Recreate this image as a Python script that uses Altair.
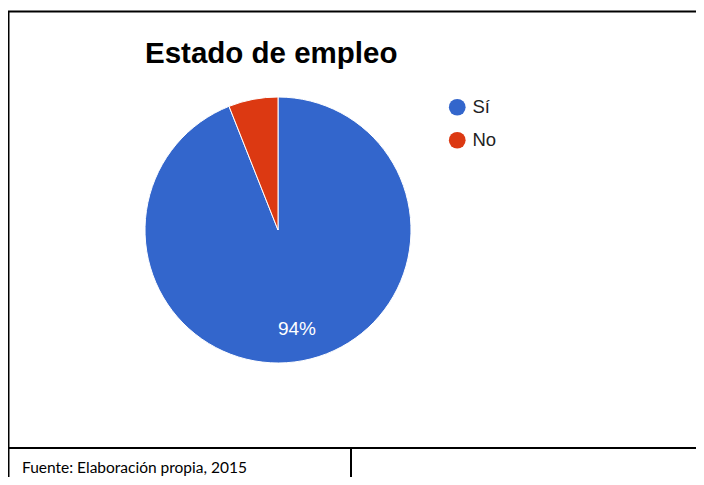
import altair as alt
import pandas as pd

# Data
categories = ["Sí", "No"]
values = [94, 6]
labels = ["94%", ""]
colors = ["#3366cc", "#dc3912"]
title_text = "Estado de empleo"
source_text = "Fuente: Elaboración propia, 2015"

df = pd.DataFrame({"cat": categories, "val": values, "label": labels, "idx": list(range(len(categories)))})

W, H = 688, 469
CX, CY, R = 270, 222, 133

base = alt.Chart(df).encode(
    theta=alt.Theta("val:Q", stack=True),
    order=alt.Order("idx:Q"),
)

pie = base.mark_arc(outerRadius=R, stroke="white", strokeWidth=1).encode(
    x=alt.value(CX),
    y=alt.value(CY),
    color=alt.Color(
        "cat:N",
        scale=alt.Scale(domain=categories, range=colors),
        sort=categories,
        legend=alt.Legend(title=None),
    ),
)

pie_text = base.mark_text(
    radius=101, color="white", fontSize=19, font="Liberation Sans"
).encode(x=alt.value(CX), y=alt.value(CY), text="label:N")

title = alt.Chart(pd.DataFrame({"t": [title_text]})).mark_text(
    font="Liberation Sans", fontSize=29.5, fontWeight="bold", align="left",
    baseline="alphabetic", color="#000000",
).encode(x=alt.value(137), y=alt.value(55), text="t:N")

source = alt.Chart(pd.DataFrame({"t": [source_text]})).mark_text(
    font="Lato", fontSize=15.5, align="left", baseline="alphabetic", color="#000000",
).encode(x=alt.value(14), y=alt.value(465), text="t:N")

# table borders
def rule(x1, x2, y1, y2):
    return alt.Chart(pd.DataFrame({"a": [0]})).mark_rule(color="black", strokeWidth=2).encode(
        x=alt.value(x1), x2=alt.value(x2), y=alt.value(y1), y2=alt.value(y2)
    )

borders = [
    rule(0, W, 3.5, 3.5),        # top
    rule(0.5, 0.5, 3.5, H),      # left
    rule(0, W, 440, 440),        # bottom of chart cell
    rule(343, 343, 440, H),      # footer divider
]

chart = alt.layer(pie, pie_text, title, source, *borders).properties(
    width=W, height=H,
    autosize=alt.AutoSizeParams(type="none"),
    padding=0,
).configure_view(stroke=None).configure_legend(
    orient="none", legendX=440, legendY=90, padding=0,
    symbolType="circle", symbolSize=280, symbolStrokeWidth=0,
    labelFont="Liberation Sans", labelFontSize=18.5, labelColor="#222222",
    labelOffset=6, rowPadding=14,
)

chart.save("out.html", embed_options={"renderer": "svg", "actions": False})
